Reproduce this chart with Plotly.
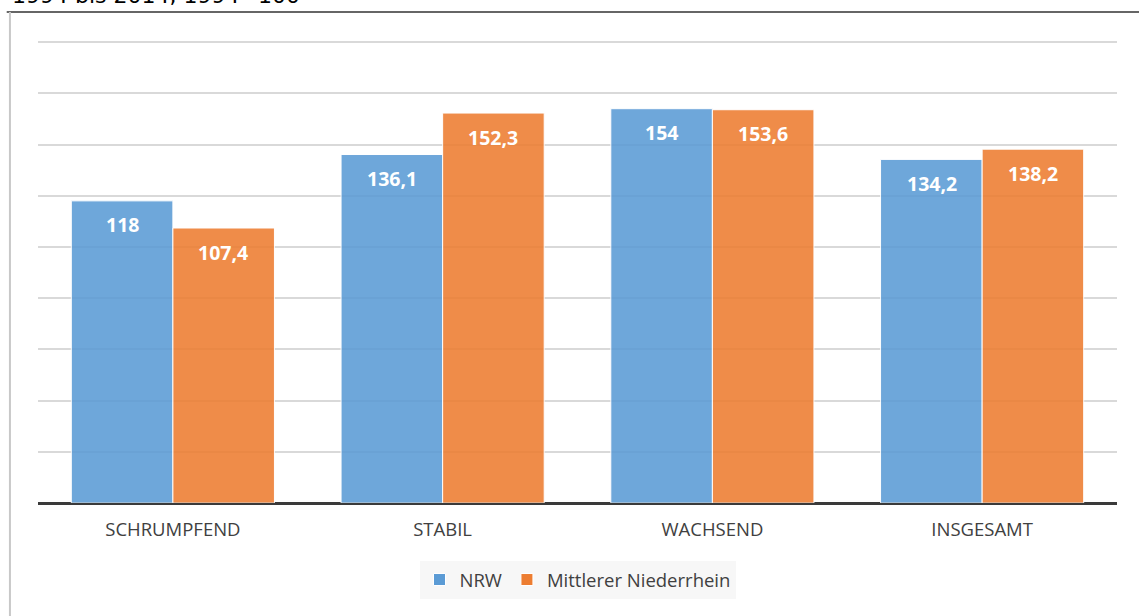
import plotly.graph_objects as go

categories = ["SCHRUMPFEND", "STABIL", "WACHSEND", "INSGESAMT"]
nrw = [118, 136.1, 154, 134.2]
mnr = [107.4, 152.3, 153.6, 138.2]
series_names = ["NRW", "Mittlerer Niederrhein"]
colors = ["#5B9BD5", "#ED7D31"]
subtitle = "1994 bis 2014, 1994=100"

def fmt(v):
    s = ("%.1f" % v).rstrip("0").rstrip(".")
    return s.replace(".", ",")

fig = go.Figure()
for name, vals, col in zip(series_names, [nrw, mnr], colors):
    fig.add_trace(go.Bar(
        x=categories, y=vals, name=name,
        marker=dict(color=col, opacity=0.88, line=dict(color="white", width=1)),
    ))

annotations = []
offsets = [-0.1875, 0.1875]
for vals, off in zip([nrw, mnr], offsets):
    for i, v in enumerate(vals):
        annotations.append(dict(
            x=i + off, y=v, xref="x", yref="y", text="<b>" + fmt(v) + "</b>",
            showarrow=False, yanchor="middle", yshift=-24,
            font=dict(family="Open Sans, sans-serif", size=19.5, color="white"),
        ))

# paper coords relative to plot area: plot spans y px 37..503, x px 38..1117
annotations.append(dict(
    x=(10 - 38) / 1079, y=(503 - 10) / 466, xref="paper", yref="paper",
    xanchor="left", yanchor="bottom",
    text=subtitle, showarrow=False,
    font=dict(family="DejaVu Sans, Liberation Sans", size=22, color="black"),
))

line_y = (503 - 12) / 466
fig.update_layout(
    width=1139, height=616,
    margin=dict(l=38, r=22, t=37, b=113),
    paper_bgcolor="white", plot_bgcolor="white",
    barmode="group", bargap=0.247, bargroupgap=0,
    font=dict(family="Open Sans, sans-serif", size=16, color="#404040"),
    xaxis=dict(showgrid=False, ticks="", tickfont=dict(size=18.5, color="#404040"),
               showline=False, zeroline=False, ticklabelstandoff=13),
    yaxis=dict(range=[0, 182], tickvals=[20, 40, 60, 80, 100, 120, 140, 160, 180],
               showticklabels=False, showgrid=True,
               gridcolor="#d9d9d9", gridwidth=2, zeroline=True,
               zerolinecolor="#3a3a3a", zerolinewidth=3, showline=False),
    legend=dict(orientation="h", x=0.5, xanchor="center", y=-(580 - 503) / 466, yanchor="middle",
                bgcolor="#f7f7f7", font=dict(size=18.5, color="#404040"),
                itemwidth=30, traceorder="normal"),
    annotations=annotations,
    shapes=[
        dict(type="line", xref="paper", yref="paper", x0=-0.029, x1=1.03, y0=line_y, y1=line_y,
             line=dict(color="#333333", width=1.5)),
        dict(type="line", xref="paper", yref="paper", x0=-0.026, x1=-0.026, y0=-0.3, y1=line_y,
             line=dict(color="#c8c8c8", width=2)),
    ],
)

fig.write_html("out.html", config={"displayModeBar": False},
               post_script="document.body.style.margin='0';")
